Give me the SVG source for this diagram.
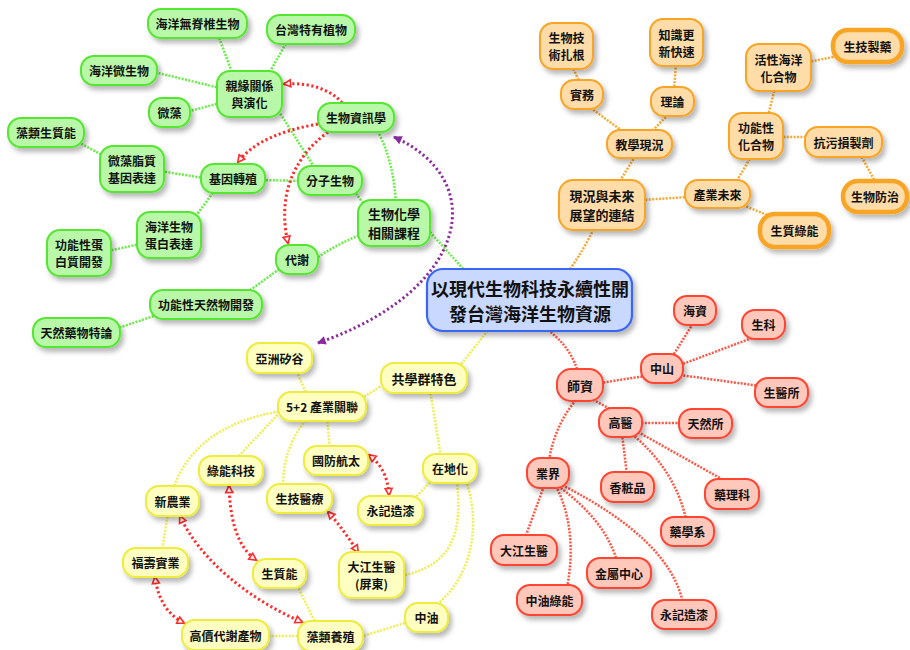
<svg xmlns="http://www.w3.org/2000/svg" width="910" height="650" viewBox="0 0 910 650">
<defs>
<filter id="sh" x="-20%" y="-25%" width="150%" height="170%">
<feDropShadow dx="3" dy="4" stdDeviation="2.5" flood-color="#000" flood-opacity="0.28"/>
</filter>
<marker id="ot" viewBox="0 0 10 10" refX="8" refY="5" markerWidth="10" markerHeight="10" markerUnits="userSpaceOnUse" orient="auto-start-reverse">
<path d="M1.5,1.5 L8.5,5 L1.5,8.5 Z" fill="#fff" stroke="#ff2a2a" stroke-width="1.6"/>
</marker>
<marker id="pt" viewBox="0 0 10 10" refX="8" refY="5" markerWidth="11" markerHeight="11" markerUnits="userSpaceOnUse" orient="auto-start-reverse">
<path d="M1,1 L9,5 L1,9 Z" fill="#8b2a9b"/>
</marker>
<style>
rect{filter:url(#sh);stroke-width:2}
.gn rect{fill:#b8f8a8;stroke:#55e633}
.or rect{fill:#ffdca8;stroke:#f8a526}
.rd rect{fill:#ffc8bb;stroke:#ff4433}
.yl rect{fill:#ffffc2;stroke:#eeec3c}
.ct rect{fill:#c9d8ff;stroke:#3a66f5;stroke-width:2.2}
.thick rect{stroke-width:4.5}
text{font-family:"Noto Sans CJK TC","Noto Sans CJK SC",sans-serif;font-weight:700;font-size:12px;fill:#111;text-anchor:middle;dominant-baseline:central}
.big text{font-size:13px}
.ct text{font-size:18px}
.cn path{fill:none;stroke-width:2.5;stroke-dasharray:2 1.4}
.cg path{stroke:#66ee44}
.co path{stroke:#f8a930}
.cr path{stroke:#ff5544}
.cy path{stroke:#f0ee50}
.xr path{fill:none;stroke:#ff2a2a;stroke-width:3;stroke-dasharray:2.2 2.6;marker-start:url(#ot);marker-end:url(#ot)}
.xr path.one{marker-start:none}
.xp{fill:none;stroke:#8b2a9b;stroke-width:3;stroke-dasharray:2.2 2.6;marker-start:url(#pt);marker-end:url(#pt)}
</style>
</defs>
<rect x="0" y="0" width="910" height="650" fill="#fff" style="filter:none;stroke:none"/>

<g id="connectors">
<g class="cn cg">
<path d="M430,232 L466,272"/>
<path d="M396,205 Q394,160 376,128"/>
<path d="M365,206 L355,192"/>
<path d="M362,234 Q335,245 314,260"/>
<path d="M302,181 L262,180"/>
<path d="M316,170 L278,110"/>
<path d="M233,75 L218,35"/>
<path d="M268,75 L288,40"/>
<path d="M220,88 L154,72"/>
<path d="M220,103 L186,112"/>
<path d="M204,178 L160,171"/>
<path d="M104,156 L78,142"/>
<path d="M215,190 L195,217"/>
<path d="M140,244 L108,251"/>
<path d="M282,267 L245,294"/>
<path d="M160,314 L115,329"/>
</g>
<g class="cn co">
<path d="M568,272 Q585,248 595,226"/>
<path d="M618,184 L636,155"/>
<path d="M642,200 L688,197"/>
<path d="M625,133 L588,106"/>
<path d="M650,133 L670,113"/>
<path d="M580,83 L572,66"/>
<path d="M674,90 L676,63"/>
<path d="M735,184 L752,155"/>
<path d="M740,204 L775,218"/>
<path d="M768,116 L775,88"/>
<path d="M780,137 L808,137"/>
<path d="M860,154 L876,183"/>
<path d="M808,62 L838,56"/>
</g>
<g class="cn cr">
<path d="M545,328 Q570,345 578,372"/>
<path d="M600,383 L645,376"/>
<path d="M672,357 L694,322"/>
<path d="M680,365 L752,338"/>
<path d="M680,375 L760,386"/>
<path d="M590,398 L612,410"/>
<path d="M638,423 L682,423"/>
<path d="M622,434 L627,475"/>
<path d="M632,434 Q675,470 686,519"/>
<path d="M638,432 L727,482"/>
<path d="M576,400 Q555,425 549,460"/>
<path d="M544,486 L525,538"/>
<path d="M556,486 Q578,530 567,588"/>
<path d="M558,486 Q605,520 617,561"/>
<path d="M562,485 Q670,540 683,603"/>
</g>
<g class="cn cy">
<path d="M490,328 L458,368"/>
<path d="M386,383 L362,398"/>
<path d="M430,390 L441,457"/>
<path d="M307,395 L296,370"/>
<path d="M327,418 L330,449"/>
<path d="M308,418 Q283,445 283,487"/>
<path d="M282,410 L236,459"/>
<path d="M282,411 Q195,425 173,489"/>
<path d="M168,513 L162,551"/>
<path d="M432,480 L414,499"/>
<path d="M457,481 C462,530 455,565 401,576"/>
<path d="M466,481 C480,520 475,575 435,606"/>
<path d="M408,622 L360,637"/>
<path d="M301,636 L266,636"/>
<path d="M316,624 L297,585"/>
</g>
<g class="xr">
<path class="one" d="M342,103 C330,88 305,82 284,84"/>
<path class="one" d="M318,124 C285,130 255,140 238,162"/>
<path class="one" d="M328,132 C290,160 278,200 288,243"/>
<path d="M369,455 C382,465 388,478 389,495"/>
<path d="M229,486 C230,515 235,545 256,560"/>
<path d="M328,512 C340,525 350,540 358,552"/>
<path d="M180,516 C200,560 250,600 302,622"/>
<path d="M155,577 C158,600 168,615 184,623"/>
</g>
<path class="xp" d="M394,137 C490,180 470,290 318,343"/>
</g>

<g id="n_center" class="ct"><rect x="427" y="269" width="205" height="62" rx="16"/><text x="530" y="288">以現代生物科技永續性開</text><text x="530" y="312.5">發台灣海洋生物資源</text></g>

<g id="n_inv" class="gn"><rect x="148" y="9" width="99" height="29" rx="13"/><text x="197.5" y="23.5">海洋無脊椎生物</text></g>
<g id="n_tw" class="gn"><rect x="267" y="15" width="88" height="29" rx="13"/><text x="311" y="29.5">台灣特有植物</text></g>
<g id="n_mic" class="gn"><rect x="81" y="56" width="76" height="29" rx="13"/><text x="119" y="70.5">海洋微生物</text></g>
<g id="n_phy" class="gn"><rect x="217" y="71" width="65" height="46" rx="13"/><text x="249.5" y="85.5">親緣關係</text><text x="249.5" y="102.5">與演化</text></g>
<g id="n_alg" class="gn"><rect x="149" y="98" width="41" height="29" rx="13"/><text x="169.5" y="112.5">微藻</text></g>
<g id="n_bio" class="gn"><rect x="318" y="103" width="76" height="29" rx="13"/><text x="356" y="117.5">生物資訊學</text></g>
<g id="n_algE" class="gn"><rect x="8" y="118" width="76" height="29" rx="13"/><text x="46" y="132.5">藻類生質能</text></g>
<g id="n_lip" class="gn"><rect x="100" y="146" width="64" height="46" rx="13"/><text x="132" y="160.5">微藻脂質</text><text x="132" y="177.5">基因表達</text></g>
<g id="n_gen" class="gn"><rect x="201" y="164" width="64" height="29" rx="13"/><text x="233" y="178.5">基因轉殖</text></g>
<g id="n_mol" class="gn"><rect x="298" y="166" width="64" height="29" rx="13"/><text x="330" y="180.5">分子生物</text></g>
<g id="n_bch" class="gn big"><rect x="358" y="200" width="72" height="46" rx="13"/><text x="394" y="213.5">生物化學</text><text x="394" y="232.5">相關課程</text></g>
<g id="n_pro" class="gn"><rect x="137" y="212" width="64" height="46" rx="13"/><text x="169" y="226.5">海洋生物</text><text x="169" y="243.5">蛋白表達</text></g>
<g id="n_fpr" class="gn"><rect x="47" y="230" width="64" height="46" rx="13"/><text x="79" y="244.5">功能性蛋</text><text x="79" y="261.5">白質開發</text></g>
<g id="n_met" class="gn"><rect x="276" y="245" width="42" height="29" rx="13"/><text x="297" y="259.5">代謝</text></g>
<g id="n_fnp" class="gn"><rect x="150" y="290" width="112" height="29" rx="13"/><text x="206" y="304.5">功能性天然物開發</text></g>
<g id="n_ndr" class="gn"><rect x="33" y="318" width="87" height="29" rx="13"/><text x="76.5" y="332.5">天然藥物特論</text></g>

<g id="n_root" class="or"><rect x="540" y="23" width="53" height="46" rx="13"/><text x="566.5" y="37.5">生物技</text><text x="566.5" y="54.5">術扎根</text></g>
<g id="n_know" class="or"><rect x="650" y="19" width="53" height="47" rx="13"/><text x="676.5" y="34">知識更</text><text x="676.5" y="51">新快速</text></g>
<g id="n_prac" class="or"><rect x="561" y="80" width="42" height="29" rx="13"/><text x="582" y="94.5">實務</text></g>
<g id="n_theo" class="or"><rect x="651" y="87" width="43" height="29" rx="13"/><text x="672.5" y="101.5">理論</text></g>
<g id="n_teach" class="or"><rect x="607" y="130" width="65" height="28" rx="13"/><text x="639.5" y="144">教學現況</text></g>
<g id="n_link" class="or big"><rect x="559" y="180" width="86" height="50" rx="14"/><text x="602" y="195.5">現況與未來</text><text x="602" y="214.5">展望的連結</text></g>
<g id="n_ind" class="or"><rect x="685" y="180" width="65" height="28" rx="13"/><text x="717.5" y="194">產業未來</text></g>
<g id="n_act" class="or"><rect x="746" y="44" width="65" height="47" rx="13"/><text x="778.5" y="59">活性海洋</text><text x="778.5" y="76">化合物</text></g>
<g id="n_drug" class="or thick"><rect x="833" y="30" width="69" height="32" rx="15"/><text x="867.5" y="46">生技製藥</text></g>
<g id="n_func" class="or"><rect x="729" y="113" width="54" height="46" rx="13"/><text x="756" y="127.5">功能性</text><text x="756" y="144.5">化合物</text></g>
<g id="n_anti" class="or"><rect x="805" y="127" width="77" height="30" rx="13"/><text x="843.5" y="142">抗污損製劑</text></g>
<g id="n_ctrl" class="or thick"><rect x="843" y="181" width="64" height="31" rx="15"/><text x="875" y="196.5">生物防治</text></g>
<g id="n_green" class="or thick"><rect x="760" y="214" width="69" height="33" rx="15"/><text x="794.5" y="230.5">生質綠能</text></g>

<g id="n_hz" class="rd"><rect x="674" y="296" width="42" height="29" rx="13"/><text x="695" y="310.5">海資</text></g>
<g id="n_sk" class="rd"><rect x="742" y="310" width="43" height="29" rx="13"/><text x="763.5" y="324.5">生科</text></g>
<g id="n_zs" class="rd"><rect x="641" y="354" width="42" height="29" rx="13"/><text x="662" y="368.5">中山</text></g>
<g id="n_sys" class="rd"><rect x="755" y="378" width="53" height="29" rx="13"/><text x="781.5" y="392.5">生醫所</text></g>
<g id="n_fac" class="rd big"><rect x="557" y="369" width="46" height="32" rx="14"/><text x="580" y="385">師資</text></g>
<g id="n_km" class="rd"><rect x="599" y="408" width="43" height="29" rx="13"/><text x="620.5" y="422.5">高醫</text></g>
<g id="n_trs" class="rd"><rect x="679" y="409" width="53" height="29" rx="13"/><text x="705.5" y="423.5">天然所</text></g>
<g id="n_indu" class="rd"><rect x="527" y="458" width="42" height="30" rx="13"/><text x="548" y="473">業界</text></g>
<g id="n_cos" class="rd"><rect x="601" y="472" width="53" height="30" rx="13"/><text x="627.5" y="487">香粧品</text></g>
<g id="n_pha" class="rd"><rect x="705" y="479" width="54" height="30" rx="13"/><text x="732" y="494">藥理科</text></g>
<g id="n_phd" class="rd"><rect x="661" y="517" width="53" height="29" rx="13"/><text x="687.5" y="531.5">藥學系</text></g>
<g id="n_dj" class="rd"><rect x="491" y="535" width="66" height="30" rx="13"/><text x="524" y="550">大江生醫</text></g>
<g id="n_mc" class="rd"><rect x="587" y="558" width="64" height="30" rx="13"/><text x="619" y="573">金屬中心</text></g>
<g id="n_cpc" class="rd"><rect x="517" y="585" width="65" height="30" rx="13"/><text x="549.5" y="600">中油綠能</text></g>
<g id="n_yj1" class="rd"><rect x="652" y="600" width="64" height="29" rx="13"/><text x="684" y="614.5">永記造漆</text></g>

<g id="n_asv" class="yl"><rect x="247" y="343" width="65" height="30" rx="13"/><text x="279.5" y="358">亞洲矽谷</text></g>
<g id="n_grp" class="yl big"><rect x="381" y="363" width="86" height="30" rx="13"/><text x="424" y="378">共學群特色</text></g>
<g id="n_52" class="yl"><rect x="278" y="392" width="88" height="29" rx="13"/><text x="322" y="406.5">5+2 產業關聯</text></g>
<g id="n_def" class="yl"><rect x="304" y="446" width="64" height="29" rx="13"/><text x="336" y="460.5">國防航太</text></g>
<g id="n_gt" class="yl"><rect x="199" y="456" width="64" height="29" rx="13"/><text x="231" y="470.5">綠能科技</text></g>
<g id="n_loc" class="yl"><rect x="423" y="454" width="54" height="29" rx="13"/><text x="450" y="468.5">在地化</text></g>
<g id="n_agr" class="yl"><rect x="146" y="486" width="53" height="30" rx="13"/><text x="172.5" y="501">新農業</text></g>
<g id="n_med" class="yl"><rect x="267" y="484" width="65" height="29" rx="13"/><text x="299.5" y="498.5">生技醫療</text></g>
<g id="n_yj2" class="yl"><rect x="358" y="496" width="65" height="29" rx="13"/><text x="390.5" y="510.5">永記造漆</text></g>
<g id="n_fs" class="yl"><rect x="123" y="548" width="65" height="29" rx="13"/><text x="155.5" y="562.5">福壽實業</text></g>
<g id="n_bm" class="yl"><rect x="253" y="559" width="53" height="29" rx="13"/><text x="279.5" y="573.5">生質能</text></g>
<g id="n_djp" class="yl"><rect x="339" y="552" width="65" height="46" rx="13"/><text x="371.5" y="566.5">大江生醫</text><text x="371.5" y="583.5">(屏東)</text></g>
<g id="n_cpc2" class="yl"><rect x="405" y="603" width="43" height="29" rx="13"/><text x="426.5" y="617.5">中油</text></g>
<g id="n_hv" class="yl"><rect x="182" y="620" width="87" height="30" rx="13"/><text x="225.5" y="635">高價代謝產物</text></g>
<g id="n_ac" class="yl"><rect x="298" y="621" width="65" height="30" rx="13"/><text x="330.5" y="636">藻類養殖</text></g>
</svg>
